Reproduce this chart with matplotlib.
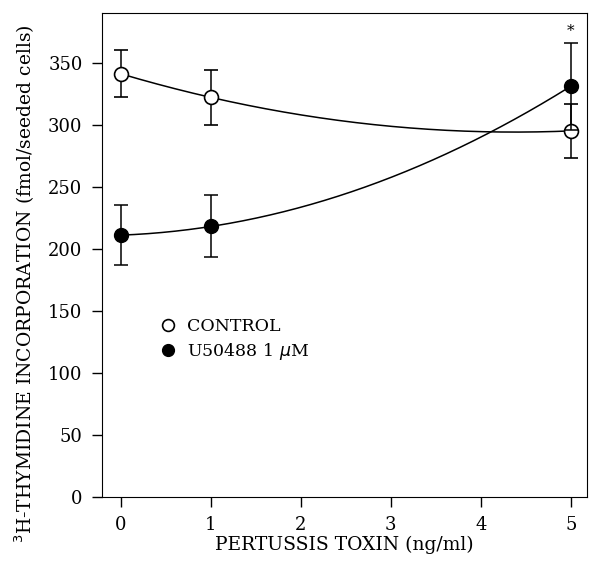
#!/usr/bin/env python3
import matplotlib
matplotlib.use('Agg')
import matplotlib.pyplot as plt
import numpy as np

# Pertussis toxin dose (ng/ml)
toxin = [0, 1, 5]

# 3H-thymidine incorporation (fmol/seeded cells)
control = [341, 322, 295]
control_err = [19, 22, 22]
u50488 = [211, 218, 331]
u50488_err = [24, 25, 35]

x_ticks = [0, 1, 2, 3, 4, 5]
y_ticks = [0, 50, 100, 150, 200, 250, 300, 350]

plt.rcParams['font.family'] = ['DejaVu Serif']

fig = plt.figure(figsize=(6.0, 5.65), dpi=100)
ax = fig.add_axes([102 / 600, 1 - 497 / 565, 485 / 600, 484 / 565])

# Smooth fitted curves through each series
xs = np.linspace(0, 5, 200)
for vals in (control, u50488):
    coef = np.polyfit(toxin, vals, 2)
    ax.plot(xs, np.polyval(coef, xs), color='black', lw=1.1, zorder=2)

ax.errorbar(toxin, control, yerr=control_err, fmt='o', color='black',
            mfc='white', mec='black', ms=10, mew=1.2, elinewidth=1.1,
            capsize=5, capthick=1.1, zorder=3, label='CONTROL')
ax.errorbar(toxin, u50488, yerr=u50488_err, fmt='o', color='black',
            mfc='black', mec='black', ms=10, elinewidth=1.1,
            capsize=5, capthick=1.1, zorder=4, label=r'U50488 1 $\mu$M')

# significance mark
ax.text(5, u50488[2] + u50488_err[2] + 4, '*', ha='center', va='bottom',
        fontsize=11)

ax.set_xlim(-0.21, 5.18)
ax.set_ylim(0, 390)
ax.set_xticks(x_ticks)
ax.set_yticks(y_ticks)
ax.tick_params(direction='out', length=7, width=1, labelsize=13, pad=7)
ax.set_xlabel('PERTUSSIS TOXIN (ng/ml)', fontsize=13.5, labelpad=1)
ax.set_ylabel(r'$^3$H-THYMIDINE INCORPORATION (fmol/seeded cells)',
              fontsize=13.5)
ax.yaxis.set_label_coords(-0.134, 0.44)

handles, labels = ax.get_legend_handles_labels()
handles = [h[0] for h in handles]
ax.legend(handles, labels, loc='center left', bbox_to_anchor=(0.085, 0.325),
          frameon=False, fontsize=12.5, handletextpad=0.6, labelspacing=0.35,
          handlelength=1.0, markerscale=0.85)

plt.savefig('out.png', dpi=100)
